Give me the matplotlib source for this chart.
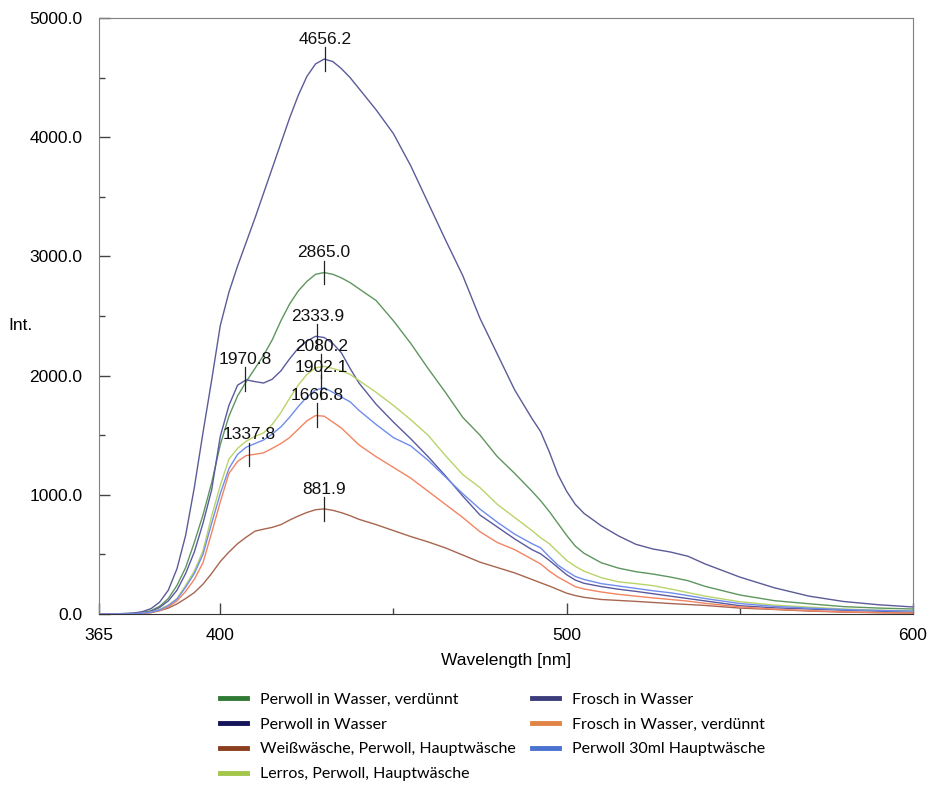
import matplotlib
matplotlib.use("Agg")
import matplotlib.pyplot as plt
from matplotlib.lines import Line2D
from matplotlib.ticker import MultipleLocator, FormatStrFormatter

plt.rcParams['font.family'] = ['Liberation Sans', 'DejaVu Sans']

# wavelengths (nm)
wl = [365, 370, 375, 377.5, 380, 382.5, 385, 387.5, 390, 392.5, 395, 397.5,
      400, 402.5, 405, 407.5, 410, 412.5, 415, 417.5, 420, 422.5, 425, 427.5,
      430, 432.5, 435, 437.5, 440, 445, 450, 455, 460, 465, 470, 475, 480, 485,
      490, 492.5, 495, 497.5, 500, 502.5, 505, 510, 515, 520, 525, 530, 535, 540,
      550, 560, 570, 580, 590, 600]

frosch = [0, 2, 8, 20, 45, 100, 200, 380, 660, 1060, 1520, 1960,
          2420, 2700, 2920, 3120, 3320, 3530, 3740, 3950, 4160, 4350, 4510, 4615,
          4656, 4635, 4575, 4500, 4410, 4230, 4030, 3760, 3450, 3140, 2840, 2480, 2180, 1880,
          1640, 1530, 1360, 1170, 1030, 920, 845, 740, 655, 585, 545, 520, 485, 420,
          310, 220, 150, 105, 78, 59]
perwoll_verd = [0, 1, 5, 12, 28, 65, 130, 240, 390, 600, 830, 1100,
                1420, 1660, 1830, 1950, 2060, 2170, 2300, 2460, 2600, 2710, 2790, 2850,
                2865, 2850, 2820, 2780, 2730, 2630, 2460, 2270, 2060, 1860, 1650, 1500, 1320, 1180,
                1030, 950, 860, 760, 660, 570, 510, 430, 385, 355, 335, 310, 280, 232,
                160, 112, 86, 62, 50, 42]
perwoll = [0, 1, 4, 9, 22, 55, 110, 200, 340, 520, 760, 1040,
           1490, 1750, 1920, 1965, 1950, 1938, 1970, 2040, 2140, 2230, 2290, 2330,
           2320, 2270, 2190, 2060, 1940, 1760, 1610, 1470, 1320, 1160, 990, 830, 730, 630,
           540, 505, 450, 390, 330, 285, 258, 230, 208, 190, 170, 150, 130, 110,
           70, 52, 42, 32, 24, 17]
lerros = [0, 1, 3, 7, 16, 38, 75, 130, 240, 360, 530, 820,
          1080, 1300, 1390, 1450, 1490, 1520, 1590, 1690, 1810, 1920, 2010, 2065,
          2078, 2060, 2040, 2010, 1960, 1860, 1750, 1630, 1500, 1330, 1170, 1060, 920, 810,
          700, 640, 590, 520, 450, 400, 360, 305, 270, 255, 238, 210, 180, 150,
          103, 75, 58, 42, 33, 25]
perwoll30 = [0, 1, 3, 7, 15, 35, 70, 125, 225, 340, 500, 760,
             1010, 1220, 1340, 1400, 1430, 1460, 1510, 1570, 1650, 1740, 1820, 1880,
             1898, 1860, 1820, 1780, 1710, 1590, 1480, 1410, 1290, 1150, 1010, 880, 770, 670,
             590, 555, 480, 410, 360, 315, 290, 255, 235, 215, 195, 178, 155, 130,
             88, 64, 50, 38, 30, 25]
frosch_verd = [0, 1, 2, 6, 13, 30, 60, 110, 190, 290, 430, 680,
               940, 1180, 1280, 1330, 1340, 1352, 1390, 1430, 1480, 1550, 1620, 1665,
               1660, 1610, 1560, 1490, 1420, 1320, 1230, 1140, 1030, 920, 810, 690, 600, 540,
               460, 420, 360, 310, 270, 230, 210, 185, 165, 150, 135, 122, 108, 90,
               60, 40, 28, 18, 12, 8]
weiss = [0, 0, 2, 5, 12, 28, 50, 85, 130, 180, 250, 340,
         440, 520, 590, 645, 695, 712, 727, 750, 788, 822, 852, 875,
         882, 870, 850, 825, 795, 750, 700, 650, 605, 555, 495, 435, 390, 345,
         290, 262, 235, 205, 175, 155, 140, 122, 114, 106, 97, 88, 80, 72,
         50, 38, 25, 16, 11, 8]

names = ['Perwoll in Wasser, verdünnt', 'Perwoll in Wasser',
         'Weißwäsche, Perwoll, Hauptwäsche', 'Lerros, Perwoll, Hauptwäsche',
         'Frosch in Wasser', 'Frosch in Wasser, verdünnt', 'Perwoll 30ml Hauptwäsche']
series = [perwoll_verd, perwoll, weiss, lerros, frosch, frosch_verd, perwoll30]
line_colors = ['#5f955f', '#5a5aa0', '#a8654f', '#b9d46a', '#5b5b98', '#f28462', '#6f8ded']
legend_colors = ['#317a35', '#14145a', '#8a3f1e', '#a3c54a', '#3c3c7c', '#e08448', '#4a72cf']

# peak picks (wavelength, value)
peak_wl = [430.2, 430.0, 428.0, 429.2, 429.2, 428.0, 430.0, 407.2, 408.4]
peak_val = [4656.2, 2865.0, 2333.9, 2080.2, 1902.1, 1666.8, 881.9, 1970.8, 1337.8]

fig = plt.figure(figsize=(9.3, 7.85), dpi=100)
ax = fig.add_axes([0.1065, 0.2178, 0.8752, 0.7592])

for vals, c in zip(series, line_colors):
    ax.plot(wl, vals, color=c, lw=1.0)

for x, y in zip(peak_wl, peak_val):
    ax.plot([x, x], [y - 100, y + 100], color='#222222', lw=0.9)
    ax.annotate(f'{y:.1f}', xy=(x, y), xytext=(0, 11), textcoords='offset points',
                ha='center', va='baseline', fontsize=12.5, color='#111111')

ax.set_xlim(365, 600)
ax.set_ylim(0, 5000)
ax.set_xticks([365, 400, 500, 600])
ax.set_xticklabels(['365', '400', '500', '600'])
ax.set_xticks([450, 550], minor=True)
ax.yaxis.set_major_locator(MultipleLocator(1000))
ax.yaxis.set_minor_locator(MultipleLocator(500))
ax.yaxis.set_major_formatter(FormatStrFormatter('%.1f'))
ax.tick_params(which='major', direction='in', length=8, width=1, color='#444444',
               labelsize=12.5, pad=10)
ax.tick_params(which='minor', direction='in', length=4.5, width=1, color='#444444')
ax.tick_params(axis='y', pad=12)
for s in ax.spines.values():
    s.set_color('#808080')
ax.spines['bottom'].set_color('#333333')

ax.set_xlabel('Wavelength [nm]', fontsize=12.5, labelpad=7.5)
fig.text(8 / 930, 1 - 326 / 785, 'Int.', fontsize=12.5, va='center', ha='left')

handles = [Line2D([], [], color=c, lw=3.5) for c in legend_colors]
fig.legend(handles, names, loc='upper left', bbox_to_anchor=(0.2366, 0.1175),
           ncol=2, frameon=False, prop={'family': 'Lato', 'size': 11.5},
           handlelength=1.7, handletextpad=0.82, columnspacing=1.0,
           labelspacing=0.66, borderaxespad=0, borderpad=0)

fig.savefig('out.png', dpi=100)
